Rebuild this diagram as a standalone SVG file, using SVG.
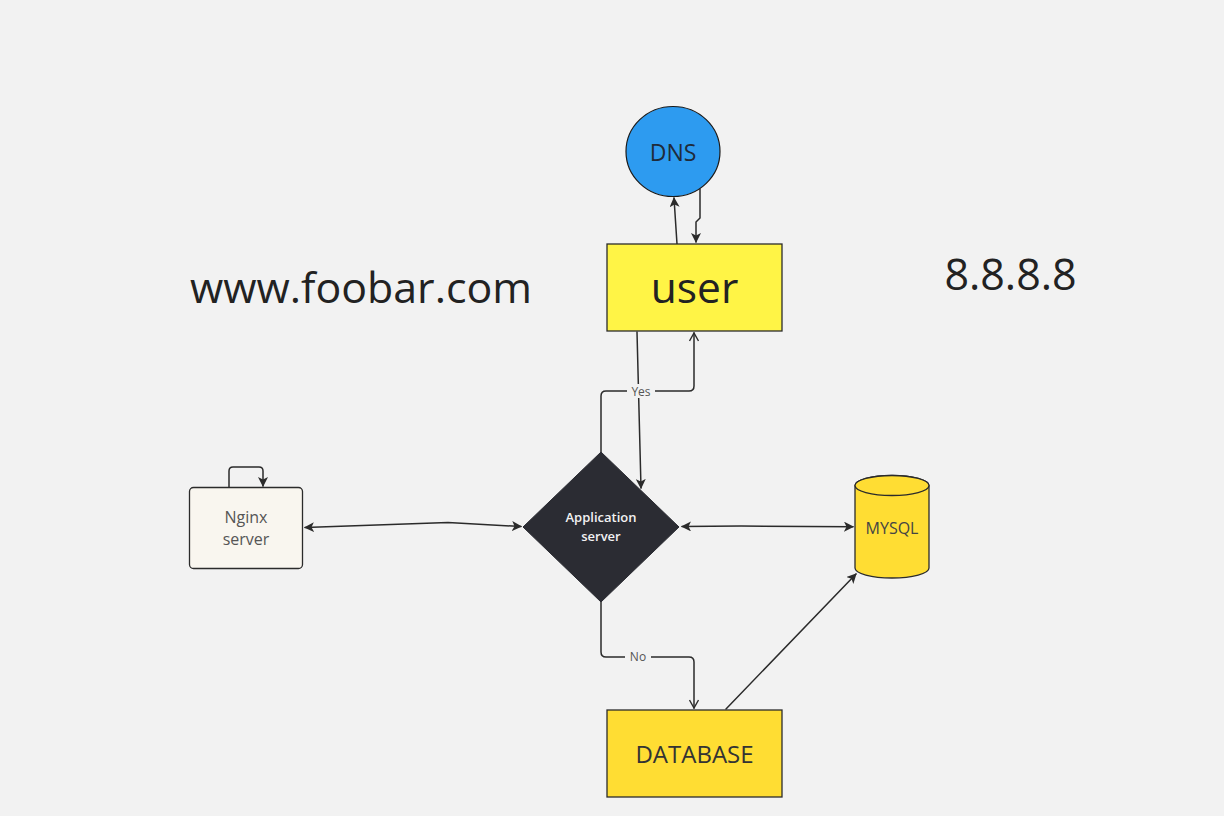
<svg xmlns="http://www.w3.org/2000/svg" width="1224" height="816" viewBox="0 0 1224 816">
<defs>
<style>
.bg{fill:#f2f2f2}
.conn{fill:none;stroke:#2b2b2b;stroke-width:1.5;stroke-linejoin:round;stroke-linecap:round}
.t{font-family:"Open Sans","Noto Sans","DejaVu Sans",sans-serif;text-anchor:middle}
.lbl{font-family:"Open Sans","Noto Sans",sans-serif;font-size:12px;fill:#555;text-anchor:middle}
.lblbg{fill:#f2f2f2}
</style>
<marker id="fa" viewBox="0 0 10 10" refX="9" refY="5" markerWidth="10" markerHeight="10" markerUnits="userSpaceOnUse" orient="auto-start-reverse">
<path d="M0,0 L10,5 L0,10 L2.5,5 Z" fill="#2b2b2b"/>
</marker>
<marker id="oa" viewBox="0 0 10 10" refX="9" refY="5" markerWidth="10" markerHeight="10" markerUnits="userSpaceOnUse" orient="auto">
<path d="M1,0.5 L9,5 L1,9.5" fill="none" stroke="#2b2b2b" stroke-width="1.4"/>
</marker>
</defs>
<rect class="bg" x="0" y="0" width="1224" height="816"/>

<g id="connectors">
<path class="conn" d="M677,244 L674,198" marker-end="url(#fa)"/>
<path class="conn" d="M700,189 V218 L696,222 V242" marker-end="url(#fa)"/>
<path class="conn" d="M637,332 L641,488" marker-end="url(#fa)"/>
<path class="conn" d="M601,452 V396 Q601,391 606,391 H689 Q694,391 694,386 V333" marker-end="url(#oa)"/>
<rect class="lblbg" x="627" y="384" width="28" height="14"/>
<text class="lbl" x="641" y="396">Yes</text>
<path class="conn" d="M601,602 V652 Q601,657 606,657 H689 Q694,657 694,662 V708" marker-end="url(#oa)"/>
<rect class="lblbg" x="625" y="650" width="26" height="14"/>
<text class="lbl" x="638" y="661">No</text>
<path class="conn" d="M305,527.5 L448,522.5 L521,526.5" marker-start="url(#fa)" marker-end="url(#fa)"/>
<path class="conn" d="M682,526.5 L741,526 L853,526.7" marker-start="url(#fa)" marker-end="url(#fa)"/>
<path class="conn" d="M726,709 L856,574" marker-end="url(#fa)"/>
<path class="conn" d="M229,487 V471 Q229,467 233,467 H259 Q263,467 263,471 V486" marker-end="url(#fa)"/>
</g>

<g id="dns">
<ellipse cx="673" cy="151.5" rx="47" ry="45" fill="#2d9bf0" stroke="#1a1a1a" stroke-width="1.2"/>
<text class="t" x="673" y="161" font-size="23" fill="#1f2b3a">DNS</text>
</g>

<g id="user">
<rect x="607" y="244" width="175" height="87" fill="#fff446" stroke="#2b2b2b" stroke-width="1.3"/>
<text class="t" x="694.5" y="303" font-size="42.5" fill="#222">user</text>
</g>

<g id="app-server">
<polygon points="601,452 679,527 601,602 523,527" fill="#2b2c33" stroke="#2b2c33" stroke-width="1"/>
<text class="t" x="601" y="522" font-size="13" font-weight="600" fill="#f2f2f2">Application</text>
<text class="t" x="601" y="541" font-size="13" font-weight="600" fill="#f2f2f2">server</text>
</g>

<g id="nginx">
<rect x="189.5" y="487.5" width="113" height="81" rx="4" fill="#f9f6ef" stroke="#2b2b2b" stroke-width="1.3"/>
<text class="t" x="246" y="523" font-size="16" fill="#555">Nginx</text>
<text class="t" x="246" y="545" font-size="16" fill="#555">server</text>
</g>

<g id="mysql">
<path d="M855,485.5 V568 A37,10 0 0 0 929,568 V485.5 A37,10 0 0 0 855,485.5 Z" fill="#ffdd33" stroke="#2b2b2b" stroke-width="1.3"/>
<ellipse cx="892" cy="485.5" rx="37" ry="10" fill="#ffdd33" stroke="#2b2b2b" stroke-width="1.3"/>
<text class="t" x="892" y="534" font-size="16" fill="#444">MYSQL</text>
</g>

<g id="database">
<rect x="607" y="710" width="175" height="87" fill="#ffdd33" stroke="#2b2b2b" stroke-width="1.3"/>
<text class="t" x="694.5" y="762.5" font-size="24" fill="#333">DATABASE</text>
</g>

<g id="texts">
<text class="t" x="361" y="303" font-size="42" fill="#222" textLength="342" lengthAdjust="spacingAndGlyphs">www.foobar.com</text>
<text class="t" x="1010.5" y="289.5" font-size="43" fill="#222">8.8.8.8</text>
</g>
</svg>
